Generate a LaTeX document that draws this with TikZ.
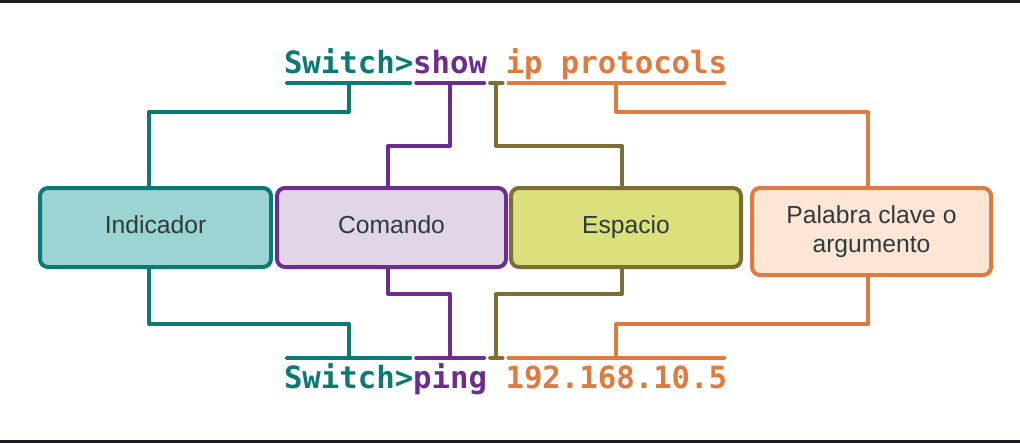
\documentclass[tikz,border=0pt]{standalone}
\usepackage{fontspec}
\setmainfont{Liberation Sans}
\setmonofont{DejaVu Sans Mono}
\usepackage{tikz}
\definecolor{tealline}{HTML}{0B7A75}
\definecolor{tealfill}{HTML}{9BD4D2}
\definecolor{purpleline}{HTML}{6B2D8F}
\definecolor{purplefill}{HTML}{E1D6E8}
\definecolor{oliveline}{HTML}{7D6E35}
\definecolor{olivefill}{HTML}{DCE07C}
\definecolor{orangeline}{HTML}{E07B3F}
\definecolor{orangefill}{HTML}{FDE6D5}
\definecolor{frameband}{HTML}{1C1E24}
\definecolor{boxtext}{HTML}{2E3B3B}
\newcommand{\cliLine}[5]
{
	\node[cli,text=tealline] (prompt#1) at (284,#2) {Switch>};
	\node[cli,text=purpleline] (cmd#1) at (prompt#1.base east) {#4};
	\node[cli] (sp#1) at (cmd#1.base east) {\phantom{x}};
	\node[cli,text=orangeline] (arg#1) at (sp#1.base east) {#5};
	\coordinate (ul#1) at (0,#3);

	\draw[tealline,ul]   (prompt#1.west |- ul#1) -- (prompt#1.east |- ul#1);
	\draw[purpleline,ul] (cmd#1.west |- ul#1)    -- (cmd#1.east |- ul#1);
	\draw[oliveline,ul]  (sp#1.west |- ul#1)     -- (sp#1.east |- ul#1);
	\draw[orangeline,ul] (arg#1.west |- ul#1)    -- (arg#1.east |- ul#1);
}

\begin{document}
\begin{tikzpicture}[x=0.75pt,y=-0.75pt,line width=3pt,line cap=round,line join=round,
	cli/.style={inner sep=0pt,outer sep=0pt,anchor=base west,font=\ttfamily\bfseries\fontsize{23}{27}\selectfont},
	ul/.style={shorten <=2.25pt,shorten >=2.25pt},
	box/.style={draw,rounded corners=6pt,inner sep=0pt,outer sep=0pt,anchor=north west,align=center,
		text height=13.9pt,text depth=4.6pt,text=boxtext,font=\fontsize{18.5}{22}\selectfont}]
\useasboundingbox (0,0) rectangle (1020,443);
\fill[white] (0,0) rectangle (1020,443);
\fill[frameband] (0,0) rectangle (1020,3);
\fill[frameband] (0,440) rectangle (1020,443);

\cliLine{A}{73}{83}{show}{ip protocols}
\cliLine{B}{388}{358}{ping}{192.168.10.5}

\node[box,draw=tealline,fill=tealfill,minimum width=173.25pt,minimum height=59.25pt] (indicador) at (40,188) {Indicador};
\node[box,draw=purpleline,fill=purplefill,minimum width=171.75pt,minimum height=59.25pt] (comando) at (277,188) {Comando};
\node[box,draw=oliveline,fill=olivefill,minimum width=172.5pt,minimum height=59.25pt] (espacio) at (511,188) {Espacio};
\node[box,draw=orangeline,fill=orangefill,minimum width=179.25pt,minimum height=65.25pt,text height=35.9pt] (palabra) at (752,188) {Palabra clave o\\argumento};

\draw[tealline]   (promptA |- ulA) -- ++(0,29) -| ([xshift=-4.9pt]indicador.north);
\draw[purpleline] (cmdA |- ulA)    -- ++(0,63) -| ([xshift=-2.6pt]comando.north);
\draw[oliveline]  (spA |- ulA)     -- ++(0,63) -| ([xshift=-3pt]espacio.north);
\draw[orangeline] (argA |- ulA)    -- ++(0,29) -| ([xshift=-2.6pt]palabra.north);

\draw[tealline]   ([xshift=-4.9pt]indicador.south) -- ++(0,57) -| (promptB |- ulB);
\draw[purpleline] ([xshift=-2.6pt]comando.south)   -- ++(0,27) -| (cmdB |- ulB);
\draw[oliveline]  ([xshift=-3pt]espacio.south)     -- ++(0,27) -| (spB |- ulB);
\draw[orangeline] ([xshift=-2.6pt]palabra.south)   -- ++(0,49) -| (argB |- ulB);
\end{tikzpicture}
\end{document}
